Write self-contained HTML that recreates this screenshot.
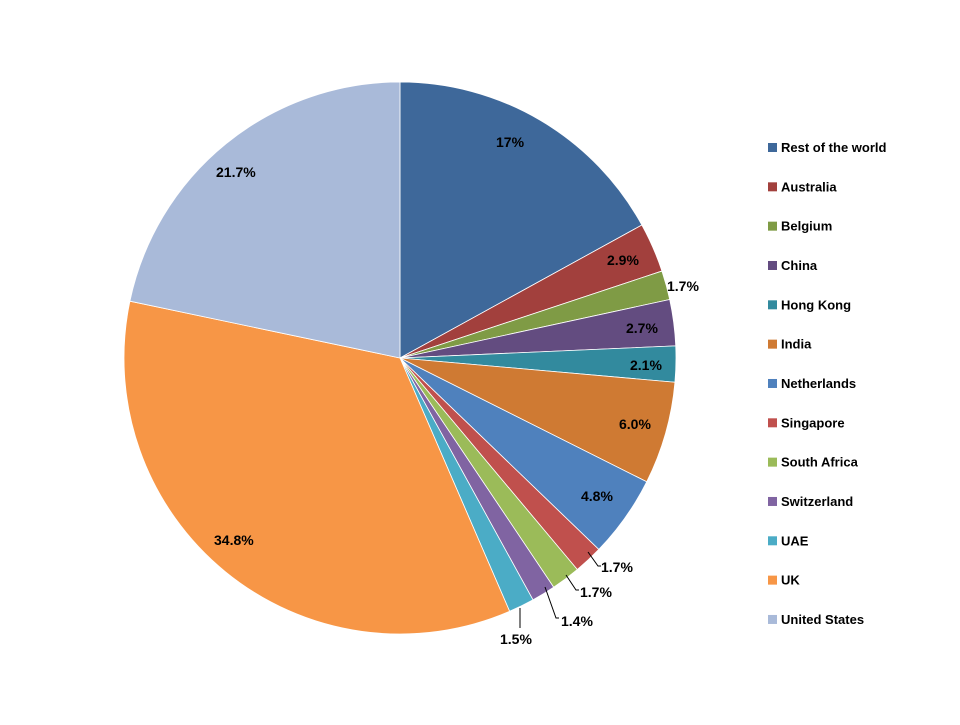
<!DOCTYPE html>
<html><head><meta charset="utf-8"><style>
body{margin:0;background:#fff;}
svg text{font-family:"Liberation Sans",sans-serif;font-weight:bold;fill:#000;}
</style></head><body>
<svg id="s" width="960" height="720" xmlns="http://www.w3.org/2000/svg">
<g id="pie"></g>
<g font-size="14">
<text x="496" y="147">17%</text>
<text x="607" y="265">2.9%</text>
<text x="667" y="291">1.7%</text>
<text x="626" y="333">2.7%</text>
<text x="630" y="370">2.1%</text>
<text x="619" y="429">6.0%</text>
<text x="581" y="501">4.8%</text>
<text x="601" y="572">1.7%</text>
<text x="580" y="597">1.7%</text>
<text x="561" y="626">1.4%</text>
<text x="500" y="644">1.5%</text>
<text x="214" y="545">34.8%</text>
<text x="216" y="177">21.7%</text>
</g>
<g stroke="#000" stroke-width="1" fill="none">
<polyline points="588,552 598,566 601,566"/>
<polyline points="566,575 576,590 579,590"/>
<polyline points="545,587 556,618 559,618"/>
<polyline points="520,608 520,628"/>
</g>
<g id="leg" font-size="13"></g>
</svg>
<script>
var vals=[17,2.9,1.7,2.7,2.1,6.0,4.8,1.7,1.7,1.4,1.5,34.8,21.7];
var cols=["#3E689A","#A2403D","#7F9B45","#634C80","#328A9E","#CF7A33","#4F81BD","#C0504D","#9BBB59","#8064A2","#4BACC6","#F79646","#A9BAD9"];
var names=["Rest of the world","Australia","Belgium","China","Hong Kong","India","Netherlands","Singapore","South Africa","Switzerland","UAE","UK","United States"];
var cx=400,cy=358,r=276,a=0,ns="http://www.w3.org/2000/svg",g=document.getElementById("pie");
vals.forEach(function(v,i){
 var a2=a+v/100*2*Math.PI;
 var x1=cx+r*Math.sin(a),y1=cy-r*Math.cos(a),x2=cx+r*Math.sin(a2),y2=cy-r*Math.cos(a2);
 var p=document.createElementNS(ns,"path");
 p.setAttribute("d","M"+cx+","+cy+"L"+x1+","+y1+"A"+r+","+r+" 0 "+((a2-a)>Math.PI?1:0)+" 1 "+x2+","+y2+"Z");
 p.setAttribute("fill",cols[i]);p.setAttribute("stroke","#fff");p.setAttribute("stroke-width","0.8");
 g.appendChild(p);a=a2;
});
var L=document.getElementById("leg");
names.forEach(function(n,i){
 var y=147+i*39.33;
 var rc=document.createElementNS(ns,"rect");
 rc.setAttribute("x",768);rc.setAttribute("y",y-4);rc.setAttribute("width",9);rc.setAttribute("height",9);rc.setAttribute("fill",cols[i]);
 L.appendChild(rc);
 var t=document.createElementNS(ns,"text");
 t.setAttribute("x",781);t.setAttribute("y",y+5);t.textContent=n;L.appendChild(t);
});
</script>
</body></html>
